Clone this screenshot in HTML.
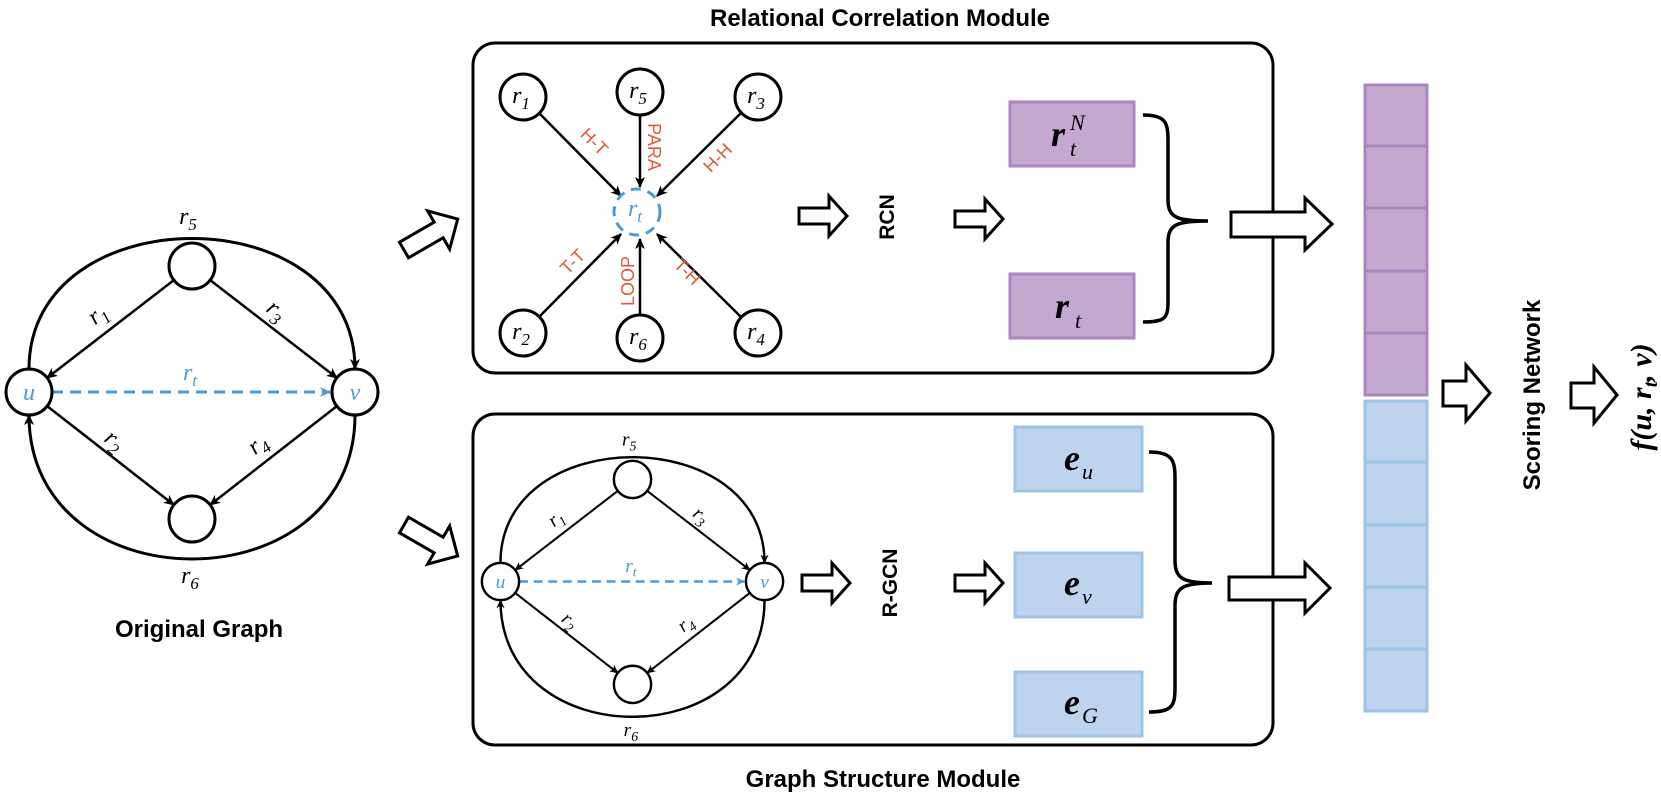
<!DOCTYPE html>
<html><head><meta charset="utf-8"><style>
html,body{margin:0;padding:0;background:#fff}
svg{display:block}
.s{font-family:"Liberation Sans",sans-serif;font-weight:bold}
.m{font-family:"Liberation Serif",serif;font-style:italic}
.o{font-family:"Liberation Sans",sans-serif;fill:#e05a3c;font-size:18px}
</style></head><body>
<svg width="1661" height="798" viewBox="0 0 1661 798" xmlns="http://www.w3.org/2000/svg">
<defs>
<marker id="ak" markerWidth="12" markerHeight="10" refX="10" refY="5" orient="auto" markerUnits="userSpaceOnUse"><path d="M0,0 L11,5 L0,10 L3,5z" fill="#000"/></marker>
<marker id="ab" markerWidth="12" markerHeight="10" refX="10" refY="5" orient="auto" markerUnits="userSpaceOnUse"><path d="M0,0 L11,5 L0,10 L3,5z" fill="#4d9bd6"/></marker>
<g id="graph">
<path d="M-163,-23 C-163,-197 163,-197 163,-23" fill="none" stroke="#000" stroke-width="3" marker-end="url(#ak)"/>
<path d="M163,23 C163,215 -163,215 -163,23" fill="none" stroke="#000" stroke-width="3" marker-end="url(#ak)"/>
<line x1="-18" y1="-112" x2="-145" y2="-14" stroke="#000" stroke-width="2.5" marker-end="url(#ak)"/>
<line x1="18" y1="-112" x2="145" y2="-14" stroke="#000" stroke-width="2.5" marker-end="url(#ak)"/>
<line x1="-145" y1="14" x2="-18" y2="113" stroke="#000" stroke-width="2.5" marker-end="url(#ak)"/>
<line x1="145" y1="14" x2="18" y2="113" stroke="#000" stroke-width="2.5" marker-end="url(#ak)"/>
<line x1="-140" y1="0" x2="138" y2="0" stroke="#4d9bd6" stroke-width="3" stroke-dasharray="11,7" marker-end="url(#ab)"/>
<circle cx="-163" cy="0" r="23" fill="#fff" stroke="#000" stroke-width="3"/>
<circle cx="163" cy="0" r="23" fill="#fff" stroke="#000" stroke-width="3"/>
<circle cx="0" cy="-126" r="23" fill="#fff" stroke="#000" stroke-width="3"/>
<circle cx="0" cy="127" r="23" fill="#fff" stroke="#000" stroke-width="3"/>
<text class="m" x="-163" y="8" font-size="24" fill="#4d9bd6" text-anchor="middle">u</text>
<text class="m" x="163" y="8" font-size="24" fill="#4d9bd6" text-anchor="middle">v</text>
<text class="m" x="-2" y="-12" font-size="24" fill="#4d9bd6" text-anchor="middle">r<tspan font-size="17" dy="6">t</tspan></text>
<text class="m" x="-4" y="-168" font-size="24" text-anchor="middle">r<tspan font-size="17" dy="6">5</tspan></text>
<text class="m" x="-2" y="191" font-size="24" text-anchor="middle">r<tspan font-size="17" dy="6">6</tspan></text>
<text class="m" font-size="24" text-anchor="middle" transform="translate(-90,-72) rotate(-38)">r<tspan font-size="17" dy="6">1</tspan></text>
<text class="m" font-size="24" text-anchor="middle" transform="translate(80,-76) rotate(38)">r<tspan font-size="17" dy="6">3</tspan></text>
<text class="m" font-size="24" text-anchor="middle" transform="translate(-82,54) rotate(38)">r<tspan font-size="17" dy="6">2</tspan></text>
<text class="m" font-size="24" text-anchor="middle" transform="translate(70,58) rotate(-38)">r<tspan font-size="17" dy="6">4</tspan></text>
</g>
<path id="barr" d="M0,-8 L30,-8 L30,-20 L48,0 L30,20 L30,8 L0,8z" fill="#fff" stroke="#000" stroke-width="3" stroke-linejoin="miter"/>
</defs>

<use href="#graph" transform="translate(192,392)"/>
<text class="s" x="199" y="637" font-size="24" text-anchor="middle">Original Graph</text>

<g transform="translate(404,250) rotate(-30)"><path d="M0,-9 L40,-9 L40,-22 L62,0 L40,22 L40,9 L0,9z" fill="#fff" stroke="#000" stroke-width="3"/></g>
<g transform="translate(404,525) rotate(30)"><path d="M0,-9 L40,-9 L40,-22 L62,0 L40,22 L40,9 L0,9z" fill="#fff" stroke="#000" stroke-width="3"/></g>

<text class="s" x="880" y="26" font-size="24" text-anchor="middle">Relational Correlation Module</text>
<text class="s" x="883" y="787" font-size="24" text-anchor="middle">Graph Structure Module</text>

<rect x="473" y="43" width="800" height="330" rx="22" fill="none" stroke="#000" stroke-width="3"/>
<g stroke="#000" stroke-width="2.5">
<line x1="539" y1="113" x2="621" y2="196" marker-end="url(#ak)"/>
<line x1="640" y1="115" x2="640" y2="187" marker-end="url(#ak)"/>
<line x1="741" y1="113" x2="657" y2="196" marker-end="url(#ak)"/>
<line x1="539" y1="317" x2="621" y2="234" marker-end="url(#ak)"/>
<line x1="640" y1="317" x2="640" y2="239" marker-end="url(#ak)"/>
<line x1="741" y1="317" x2="657" y2="234" marker-end="url(#ak)"/>
</g>
<g fill="#fff" stroke="#000" stroke-width="3">
<circle cx="523" cy="97" r="23"/><circle cx="640" cy="92" r="23"/><circle cx="758" cy="97" r="23"/>
<circle cx="523" cy="333" r="23"/><circle cx="640" cy="338" r="23"/><circle cx="758" cy="333" r="23"/>
</g>
<circle cx="637" cy="212" r="23" fill="#fff" stroke="#4d9bd6" stroke-width="3" stroke-dasharray="10,7"/>
<g class="m" font-size="24" text-anchor="middle">
<text x="521" y="103">r<tspan font-size="17" dy="6">1</tspan></text>
<text x="638" y="98">r<tspan font-size="17" dy="6">5</tspan></text>
<text x="756" y="103">r<tspan font-size="17" dy="6">3</tspan></text>
<text x="521" y="339">r<tspan font-size="17" dy="6">2</tspan></text>
<text x="638" y="344">r<tspan font-size="17" dy="6">6</tspan></text>
<text x="756" y="339">r<tspan font-size="17" dy="6">4</tspan></text>
<text x="635" y="216" fill="#4d9bd6">r<tspan font-size="17" dy="6">t</tspan></text>
</g>
<text class="o" text-anchor="middle" transform="translate(590,146) rotate(45)">H-T</text>
<text class="o" text-anchor="middle" transform="translate(648,147) rotate(90)">PARA</text>
<text class="o" text-anchor="middle" transform="translate(722,162) rotate(-45)">H-H</text>
<text class="o" text-anchor="middle" transform="translate(577,266) rotate(-45)">T-T</text>
<text class="o" text-anchor="middle" transform="translate(634,281) rotate(-90)">LOOP</text>
<text class="o" text-anchor="middle" transform="translate(683,276) rotate(45)">T-H</text>

<use href="#barr" transform="translate(799,216)"/>
<text class="s" font-size="21" text-anchor="middle" transform="translate(894,217) rotate(-90)">RCN</text>
<use href="#barr" transform="translate(955,219)"/>

<rect x="1010" y="102" width="124" height="64" fill="#c3a8cf" stroke="#ac85c2" stroke-width="3"/>
<rect x="1010" y="274" width="124" height="64" fill="#c3a8cf" stroke="#ac85c2" stroke-width="3"/>
<text x="1058" y="146" font-family="Liberation Serif,serif" font-size="36" font-style="italic" font-weight="bold" text-anchor="middle">r</text>
<text x="1070" y="130" font-family="Liberation Serif,serif" font-size="22" font-style="italic">N</text>
<text x="1070" y="156" font-family="Liberation Serif,serif" font-size="22" font-style="italic">t</text>
<text x="1062" y="318" font-family="Liberation Serif,serif" font-size="36" font-style="italic" font-weight="bold" text-anchor="middle">r</text>
<text x="1075" y="328" font-family="Liberation Serif,serif" font-size="22" font-style="italic">t</text>
<path d="M1143,115 C1165,115 1168,122 1168,140 L1168,200 C1168,218 1178,221 1208,221 C1178,221 1168,224 1168,242 L1168,302 C1168,318 1165,322 1143,322" fill="none" stroke="#000" stroke-width="3.5"/>
<path d="M1231,212 L1305,212 L1305,198 L1332,224 L1305,250 L1305,237 L1231,237z" fill="#fff" stroke="#000" stroke-width="3"/>

<rect x="473" y="414" width="800" height="331" rx="22" fill="none" stroke="#000" stroke-width="3"/>
<use href="#graph" transform="translate(632.5,581.5) scale(0.81)"/>
<use href="#barr" transform="translate(802,583)"/>
<text class="s" font-size="21" text-anchor="middle" transform="translate(897,583) rotate(-90)">R-GCN</text>
<use href="#barr" transform="translate(955,583)"/>
<rect x="1015" y="427" width="127" height="64" fill="#bdd3ee" stroke="#9fc4e7" stroke-width="3"/>
<rect x="1015" y="553" width="127" height="64" fill="#bdd3ee" stroke="#9fc4e7" stroke-width="3"/>
<rect x="1015" y="672" width="127" height="64" fill="#bdd3ee" stroke="#9fc4e7" stroke-width="3"/>
<g font-family="Liberation Serif,serif" font-style="italic">
<text x="1072" y="470" font-size="36" font-weight="bold" text-anchor="middle">e</text><text x="1082" y="479" font-size="22">u</text>
<text x="1072" y="595" font-size="36" font-weight="bold" text-anchor="middle">e</text><text x="1082" y="604" font-size="22">v</text>
<text x="1072" y="714" font-size="36" font-weight="bold" text-anchor="middle">e</text><text x="1082" y="723" font-size="22">G</text>
</g>
<path d="M1149,452 C1172,452 1175,460 1175,478 L1175,560 C1175,578 1182,583 1212,583 C1182,583 1175,588 1175,606 L1175,688 C1175,706 1172,712 1149,712" fill="none" stroke="#000" stroke-width="3.5"/>
<path d="M1229,577 L1305,577 L1305,563 L1330,588 L1305,613 L1305,600 L1229,600z" fill="#fff" stroke="#000" stroke-width="3"/>

<g fill="#c3a8cf" stroke="#a986bf" stroke-width="3">
<rect x="1365" y="85" width="62" height="61"/><rect x="1365" y="146" width="62" height="62"/><rect x="1365" y="208" width="62" height="63"/><rect x="1365" y="271" width="62" height="62"/><rect x="1365" y="333" width="62" height="62"/>
</g>
<g fill="#bdd3ee" stroke="#9dc3e6" stroke-width="3">
<rect x="1365" y="401" width="62" height="61"/><rect x="1365" y="462" width="62" height="63"/><rect x="1365" y="525" width="62" height="62"/><rect x="1365" y="587" width="62" height="62"/><rect x="1365" y="649" width="62" height="62"/>
</g>

<path d="M1443,381 L1466,381 L1466,365 L1490,393 L1466,421 L1466,406 L1443,406z" fill="#fff" stroke="#000" stroke-width="3"/>
<text class="s" font-size="24" text-anchor="middle" transform="translate(1540,395) rotate(-90)">Scoring Network</text>
<path d="M1571,383 L1594,383 L1594,367 L1617,395 L1594,423 L1594,408 L1571,408z" fill="#fff" stroke="#000" stroke-width="3"/>
<text font-family="Liberation Serif,serif" font-style="italic" font-weight="bold" font-size="30" text-anchor="middle" transform="translate(1651,397) rotate(-90)">f(u, r<tspan font-size="20" dy="6">t</tspan><tspan dy="-6">, v)</tspan></text>
</svg>
</body></html>
